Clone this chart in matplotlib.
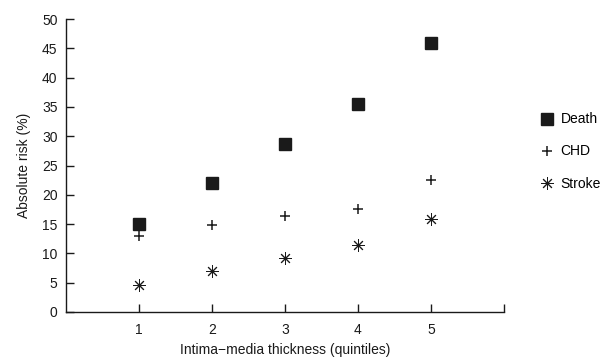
import matplotlib.pyplot as plt

plt.rcParams['font.family'] = ['Liberation Sans', 'DejaVu Sans']

# quintiles of intima-media thickness
quintiles = [1, 2, 3, 4, 5]
death = [15.0, 22.0, 28.7, 35.5, 45.9]
chd = [13.0, 14.8, 16.4, 17.6, 22.5]
stroke = [4.6, 7.0, 9.2, 11.4, 15.9]

fig = plt.figure(figsize=(6.05, 3.61), dpi=100)
ax = fig.add_axes([0.109, 0.136, 0.724, 0.811])

ax.plot(quintiles, death, linestyle='none', marker='s', markersize=8,
        color='#1a1a1a', label='Death')
ax.plot(quintiles, chd, linestyle='none', marker='+', markersize=7,
        markeredgewidth=1.1, color='#1a1a1a', label='CHD')
ax.plot(quintiles, stroke, linestyle='none', marker=(8, 2, 0), markersize=9,
        markeredgewidth=0.7, color='#1a1a1a', label='Stroke')

ax.set_xlim(0, 6)
ax.set_ylim(0, 50)
ax.set_xticks([1, 2, 3, 4, 5, 6])
ax.set_xticklabels(['1', '2', '3', '4', '5', ''])
ax.set_yticks(range(0, 51, 5))

for side in ['top', 'right']:
    ax.spines[side].set_visible(False)
for side in ['left', 'bottom']:
    ax.spines[side].set_linewidth(1.0)
    ax.spines[side].set_color('#1a1a1a')

ax.tick_params(direction='in', length=6, width=1.0, labelsize=10,
               color='#1a1a1a', labelcolor='#1a1a1a', pad=6)
ax.tick_params(axis='x', pad=8)

ax.set_xlabel('Intima\u2212media thickness (quintiles)', fontsize=10,
              color='#1a1a1a', labelpad=4)
ax.set_ylabel('Absolute risk (%)', fontsize=10, color='#1a1a1a', labelpad=8)

ax.legend(loc='center left', bbox_to_anchor=(1.05, 0.548), frameon=False,
          fontsize=10, handletextpad=0.4, labelspacing=1.3, handlelength=1.2)

fig.savefig('out.png', dpi=100)
